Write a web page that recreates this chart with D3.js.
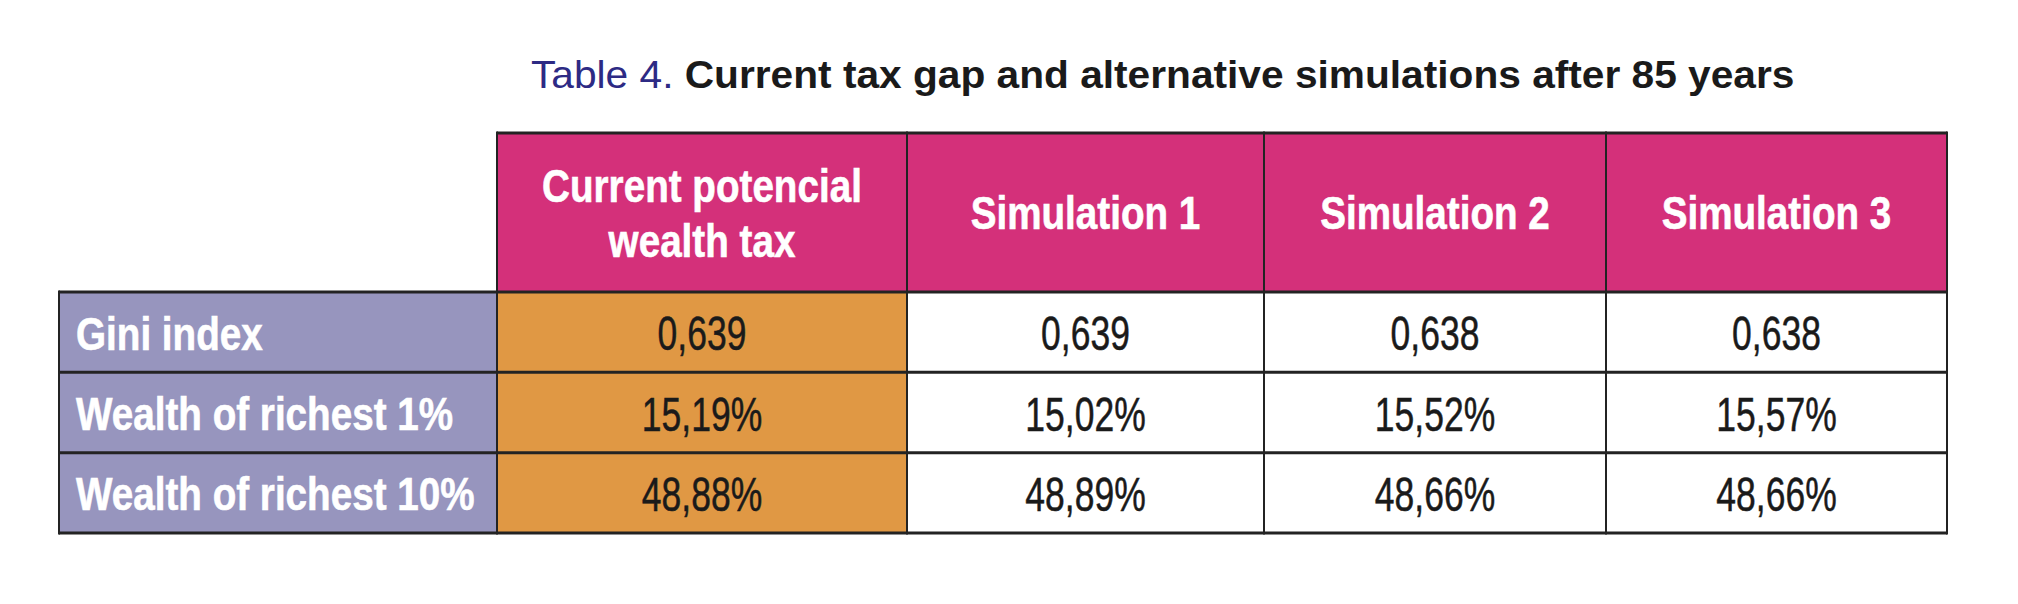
<!DOCTYPE html>
<html>
<head>
<meta charset="utf-8">
<script src="https://cdn.jsdelivr.net/npm/d3@7"></script>
<style>
  body { margin: 0; background: #fff; }
  svg { display: block; }
</style>
</head>
<body>
<script>
// table data
const columns = ['Current potencial\nwealth tax', 'Simulation 1', 'Simulation 2', 'Simulation 3'];
const rowLabels = ['Gini index', 'Wealth of richest 1%', 'Wealth of richest 10%'];
const currentTax = ['0,639', '15,19%', '48,88%'];
const simulation1 = ['0,639', '15,02%', '48,89%'];
const simulation2 = ['0,638', '15,52%', '48,66%'];
const simulation3 = ['0,638', '15,57%', '48,66%'];
const series = [currentTax, simulation1, simulation2, simulation3];

let width = 2018;
let height = 604;
let sans = "'Liberation Sans', Arial, Helvetica, sans-serif";
// the original uses a condensed face, squeeze horizontally instead
let boldSqueeze = 0.84;
let valueSqueeze = 0.74;

let svg = d3.select('body').append('svg')
   .attr('width', width)
   .attr('height', height);

// column edges (label column + 4 data columns)
let keys = ['label'].concat(columns);
let edges = [59, 497, 907, 1264, 1606, 1947];
let xLeft = d3.scaleOrdinal().domain(keys).range(edges.slice(0, -1));
let xRight = d3.scaleOrdinal().domain(keys).range(edges.slice(1));
let xMid = (k) => (xLeft(k) + xRight(k)) / 2;

let headerTop = 133, headerBottom = 292, tableBottom = 533;
let y = d3.scaleBand().domain(rowLabels).range([headerBottom, tableBottom]);

// title
let title = svg.append('text')
   .attr('transform', 'translate(531,88) scale(1.03,1)')
   .attr('font-family', sans)
   .attr('font-size', 39.5);
title.append('tspan').attr('fill', '#2d2a84').text('Table 4. ');
title.append('tspan').attr('fill', '#1a1a1a').attr('font-weight', 'bold')
   .text('Current tax gap and alternative simulations after 85 years');

// header cells
svg.append('g').selectAll('rect')
   .data(columns)
   .join('rect')
   .attr('x', (d) => xLeft(d))
   .attr('y', headerTop)
   .attr('width', (d) => xRight(d) - xLeft(d))
   .attr('height', headerBottom - headerTop)
   .attr('fill', '#d4307a');

let headText = svg.append('g').selectAll('text')
   .data(columns)
   .join('text')
   .attr('transform', (d) => `translate(${xMid(d)},0) scale(${boldSqueeze},1)`)
   .attr('text-anchor', 'middle')
   .attr('fill', '#fff')
   .attr('stroke', '#fff')
   .attr('stroke-width', 0.6)
   .attr('font-family', sans)
   .attr('font-weight', 'bold')
   .attr('font-size', 46);
headText.each(function(d) {
   let lines = d.split('\n');
   let cy = (headerTop + headerBottom) / 2 + 17 - (lines.length - 1) * 27.5;
   d3.select(this).selectAll('tspan')
      .data(lines)
      .join('tspan')
      .attr('x', 0)
      .attr('y', (l, i) => cy + i * 55)
      .text((l) => l);
});

// row label cells
svg.append('g').selectAll('rect')
   .data(rowLabels)
   .join('rect')
   .attr('x', xLeft('label'))
   .attr('y', (d) => y(d))
   .attr('width', xRight('label') - xLeft('label'))
   .attr('height', y.bandwidth())
   .attr('fill', '#9795be');

svg.append('g').selectAll('text')
   .data(rowLabels)
   .join('text')
   .attr('transform', (d) => `translate(${xLeft('label') + 17},${y(d) + y.bandwidth() / 2 + 17.5}) scale(${boldSqueeze},1)`)
   .attr('fill', '#fff')
   .attr('stroke', '#fff')
   .attr('stroke-width', 0.6)
   .attr('font-family', sans)
   .attr('font-weight', 'bold')
   .attr('font-size', 46)
   .text((d) => d);

// value cells
let cells = [];
series.forEach((vals, ci) => {
   vals.forEach((v, ri) => cells.push({ col: columns[ci], row: rowLabels[ri], value: v, ci: ci }));
});

svg.append('g').selectAll('rect')
   .data(cells)
   .join('rect')
   .attr('x', (d) => xLeft(d.col))
   .attr('y', (d) => y(d.row))
   .attr('width', (d) => xRight(d.col) - xLeft(d.col))
   .attr('height', y.bandwidth())
   .attr('fill', (d) => d.ci === 0 ? '#e09844' : '#fff');

svg.append('g').selectAll('text')
   .data(cells)
   .join('text')
   .attr('transform', (d) => `translate(${xMid(d.col)},${y(d.row) + y.bandwidth() / 2 + 18}) scale(${valueSqueeze},1)`)
   .attr('text-anchor', 'middle')
   .attr('fill', '#1a1a1a')
   .attr('stroke', '#1a1a1a')
   .attr('stroke-width', 0.5)
   .attr('font-family', sans)
   .attr('font-size', 48)
   .text((d) => d.value);

// grid lines
let grid = svg.append('g').attr('stroke', '#232323').attr('fill', 'none');
// horizontal lines
let hLines = [{ y: headerTop, x0: xLeft(columns[0]) }, { y: headerBottom, x0: xLeft('label') }]
   .concat(rowLabels.map((r) => ({ y: y(r) + y.bandwidth(), x0: xLeft('label') })));
grid.selectAll('line.h')
   .data(hLines)
   .join('line')
   .attr('class', 'h')
   .attr('x1', (d) => d.x0)
   .attr('x2', xRight(columns[3]))
   .attr('y1', (d) => d.y)
   .attr('y2', (d) => d.y)
   .attr('stroke-width', 3);
// vertical lines
let vLines = keys.map((k) => ({ x: xLeft(k), y0: k === 'label' ? headerBottom : headerTop }))
   .concat([{ x: xRight(columns[3]), y0: headerTop }]);
grid.selectAll('line.v')
   .data(vLines)
   .join('line')
   .attr('class', 'v')
   .attr('x1', (d) => d.x)
   .attr('x2', (d) => d.x)
   .attr('y1', (d) => d.y0 - 1.5)
   .attr('y2', tableBottom + 1.5)
   .attr('stroke-width', 2);
</script>
</body>
</html>
